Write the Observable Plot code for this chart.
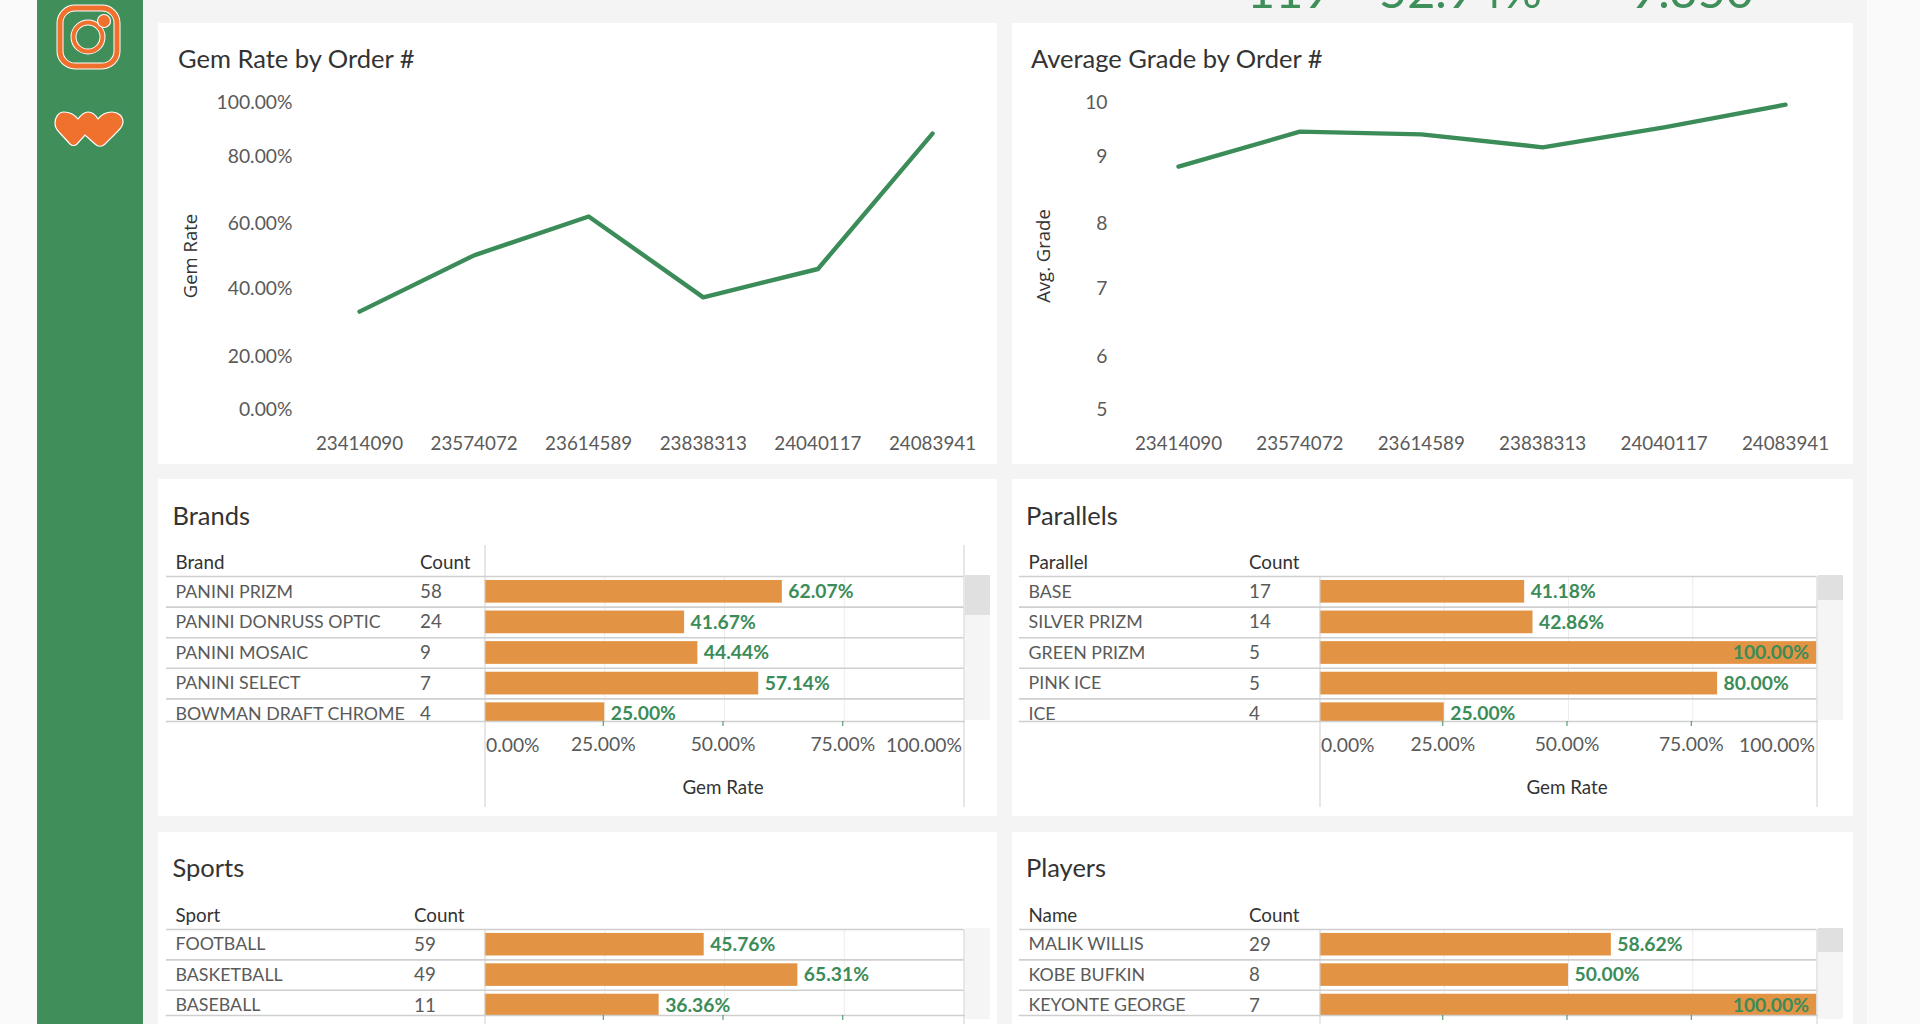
<!DOCTYPE html>
<html><head><meta charset="utf-8">
<script src="https://cdn.jsdelivr.net/npm/d3@7"></script>
<script src="https://cdn.jsdelivr.net/npm/@observablehq/plot@0.6"></script>
<style>
html,body{margin:0;padding:0;width:1920px;height:1024px;overflow:hidden;background:#fafafa;font-family:Lato,sans-serif}
#stage{position:relative;width:1920px;height:1024px;overflow:hidden}
.abs{position:absolute}
.card{position:absolute;background:#fff}
.card svg{position:absolute;left:0;top:0;background:transparent;overflow:visible}
.title{position:absolute;font-family:Lato,sans-serif;font-size:25.5px;color:#333;white-space:nowrap;line-height:30px}
.kpi{position:absolute;font-size:48.5px;line-height:48.5px;color:#3f8f5b;top:-35.5px;white-space:nowrap}
.track{position:absolute;background:#f5f5f5}.thumb{position:absolute;background:#e0e0e0}
</style></head>
<body><div id="stage">
<div class="abs" style="left:36.7px;top:0;width:106.8px;height:1024px;background:#408f5b"></div>
<div class="abs" style="left:143.5px;top:0;width:1723.5px;height:1024px;background:#f4f4f4"></div>
<svg class="abs" style="left:36px;top:0" width="108" height="160" viewBox="36 0 108 160">
  <rect x="60" y="8" width="57" height="58" rx="15" fill="none" stroke="#fff" stroke-width="7"/>
  <rect x="60" y="8" width="57" height="58" rx="15" fill="none" stroke="#f0702d" stroke-width="5"/>
  <circle cx="88" cy="37" r="14.5" fill="none" stroke="#fff" stroke-width="6"/>
  <circle cx="88" cy="37" r="14.5" fill="none" stroke="#f0702d" stroke-width="4"/>
  <circle cx="104" cy="21" r="6.5" fill="#f0702d" stroke="#fff" stroke-width="1.2"/>
  <path d="M78 119C74 114 69 112 64 112C58 112 55 118 55 123C55 127 57 130 59 132L70 144C72 146 75 146 77 144L85 135L95 144C98 147 102 147 105 144L118 131C121 128 123 125 123 122C123 116 118 112 112 112C106 112 101 115 98 119C95 114 92 112 88 112C84 112 81 115 78 119Z" fill="#f0702d" stroke="#fff" stroke-width="1.2"/>
</svg>
<div class="kpi" style="left:1247px">119</div>
<div class="kpi" style="left:1379px">52.94%</div>
<div class="kpi" style="left:1630px">9.350</div>
</div>
<script>
// ---- data ----
const orderNumbers = ["23414090","23574072","23614589","23838313","24040117","24083941"];
const gemRateByOrder = [33.2, 50.2, 62.1, 37.4, 46.0, 88.5];
const avgGradeByOrder = [8.85, 9.46, 9.41, 9.17, 9.54, 9.96];
const gemRateTicks = [0, 20, 40, 60, 80, 100];
const gradeTicks = [5, 6, 7, 8, 9, 10];
const brandNames = ["PANINI PRIZM","PANINI DONRUSS OPTIC","PANINI MOSAIC","PANINI SELECT","BOWMAN DRAFT CHROME"];
const brandCounts = [58, 24, 9, 7, 4];
const brandRates = [62.07, 41.67, 44.44, 57.14, 25.00];
const parallelNames = ["BASE","SILVER PRIZM","GREEN PRIZM","PINK ICE","ICE"];
const parallelCounts = [17, 14, 5, 5, 4];
const parallelRates = [41.18, 42.86, 100.00, 80.00, 25.00];
const sportNames = ["FOOTBALL","BASKETBALL","BASEBALL"];
const sportCounts = [59, 49, 11];
const sportRates = [45.76, 65.31, 36.36];
const playerNames = ["MALIK WILLIS","KOBE BUFKIN","KEYONTE GEORGE"];
const playerCounts = [29, 8, 7];
const playerRates = [58.62, 50.00, 100.00];
const rateAxisTicks = [25, 50, 75];

const GREEN = "#3b8c58", ORANGE = "#e39344", LINEC = "#cfcfcf", GREY = "#5a5a5a", DARK = "#333";
const stage = document.getElementById("stage");
function card(l, t, w, h, title, tx, ty) {
  const c = document.createElement("div");
  c.className = "card";
  c.style.cssText = `left:${l}px;top:${t}px;width:${w}px;height:${h}px`;
  const d = document.createElement("div");
  d.className = "title"; d.textContent = title;
  d.style.left = (tx - l) + "px"; d.style.top = (ty - t - 15) + "px";
  c.appendChild(d); stage.appendChild(c);
  return c;
}
const pct = d => d.toFixed(2) + "%";

function lineChart(box, o) {
  const data = orderNumbers.map((order, i) => ({order, value: o.values[i]}));
  const svg = Plot.plot({
    width: box.w, height: box.h,
    marginTop: 102 - box.t, marginBottom: box.t + box.h - 409,
    marginLeft: o.axisX - box.l, marginRight: 0,
    style: {fontFamily: "Lato, sans-serif", background: "transparent"},
    x: {type: "point", domain: orderNumbers, range: [o.x0 - box.l, o.x1 - box.l], padding: 0, round: false, axis: null},
    y: {type: "linear", domain: o.ticks, range: [409, 356, 288, 223, 156, 102].map(v => v - box.t), axis: null},
    marks: [
      Plot.axisY({ticks: o.ticks, tickSize: 0, tickPadding: 0, tickFormat: o.fmt, fontSize: 19.3, color: GREY, label: null}),
      Plot.axisX({ticks: orderNumbers, tickSize: 0, tickPadding: 27, fontSize: 18.8, color: GREY, label: null, anchor: "bottom"}),
      Plot.text([o.label], {frameAnchor: "left", textAnchor: "middle", dx: o.labelX - o.axisX, rotate: -90, fontSize: 18.5, fill: DARK,
        fontFamily: "'Open Sans', sans-serif"}),
      Plot.line(data, {x: "order", y: "value", stroke: GREEN, strokeWidth: 4.4, curve: "linear"})
    ]
  });
  box.el.appendChild(svg);
}

function tableChart(box, o) {
  const rows = o.names.map((name, i) => ({name, count: o.counts[i], rate: o.rates[i]}));
  const step = o.step, h = box.h;
  const clipB = o.bottom;
  const under = rows.filter(r => r.rate < 100), full = rows.filter(r => r.rate >= 100);
  const extendL = o.barL - o.lineL;
  const svg = Plot.plot({
    width: box.w, height: h,
    marginTop: o.top - box.t, marginBottom: box.t + h - clipB,
    marginLeft: o.barL - box.l, marginRight: box.l + box.w - o.barR,
    style: {fontFamily: "Lato, sans-serif", background: "transparent"},
    x: {domain: [0, 100], axis: null},
    y: {type: "band", domain: o.names, range: [o.top - box.t, o.top - box.t + step * o.names.length], paddingInner: 0.258, paddingOuter: 0.129, round: false, axis: null},
    marks: [
      Plot.ruleX(rateAxisTicks, {stroke: "#ececec", strokeWidth: 1}),
      Plot.barX(rows, {x: "rate", y: "name", fill: ORANGE, clip: "frame"}),
      Plot.ruleY(o.names, {y: d => d, dy: -step / 2, stroke: LINEC, strokeWidth: 1.6, insetLeft: -extendL}),
      Plot.frame({anchor: "bottom", stroke: LINEC, strokeWidth: 1.6, insetLeft: -extendL}),
      Plot.ruleX([0, 100], {stroke: "#cfcfcf", strokeWidth: 1, insetBottom: -(o.vBottom - clipB), insetTop: -(o.top - o.vTop)}),
      Plot.text(rows, {text: "name", y: "name", frameAnchor: "left", dx: o.nameX - o.barL, fontSize: 17.8, fill: GREY}),
      Plot.text(rows, {text: "count", y: "name", frameAnchor: "left", dx: o.countX - o.barL, fontSize: 18.8, fill: GREY}),
      Plot.text(under, {x: "rate", y: "name", text: d => pct(d.rate), textAnchor: "start", dx: 6, fontSize: 19.3, fontWeight: 700, fill: GREEN}),
      Plot.text(full, {x: "rate", y: "name", text: d => pct(d.rate), textAnchor: "end", dx: -8, fontSize: 19.3, fontWeight: 700, fill: GREEN}),
      Plot.text([o.head], {frameAnchor: "top-left", dx: o.nameX - o.barL, dy: -13.5, lineAnchor: "middle", fontSize: 18.8, fill: DARK}),
      Plot.text(["Count"], {frameAnchor: "top-left", dx: o.countX - o.barL, dy: -13.5, lineAnchor: "middle", fontSize: 18.8, fill: DARK}),
      Plot.axisX({ticks: rateAxisTicks, tickSize: 5, stroke: GREEN, tickPadding: 11, fontSize: 19.3, color: GREY, tickFormat: pct, label: null, dx: -1.5}),
      Plot.text([0], {x: d => d, frameAnchor: "bottom", dy: 24, dx: 1, lineAnchor: "middle", textAnchor: "start", text: d => pct(d), fontSize: 19.3, fill: GREY}),
      Plot.text([100], {x: d => d, frameAnchor: "bottom", dy: 24, dx: -2, lineAnchor: "middle", textAnchor: "end", text: d => pct(d), fontSize: 19.3, fill: GREY}),
      Plot.text(["Gem Rate"], {frameAnchor: "bottom", dy: 66, dx: -1.5, lineAnchor: "middle", fontSize: 18.8, fill: DARK})
    ]
  });
  box.el.appendChild(svg);
  if (o.trackT !== undefined) {
    const tr = document.createElement("div"); tr.className = "track";
    tr.style.cssText = `left:${o.barR + 1 - box.l}px;top:${o.trackT - box.t}px;width:${o.trackW}px;height:${o.trackB - o.trackT}px`;
    box.el.insertBefore(tr, svg);
    if (o.thumbB) {
      const th = document.createElement("div"); th.className = "thumb";
      th.style.cssText = `left:${o.barR + 1 - box.l}px;top:${o.trackT - box.t}px;width:${o.trackW}px;height:${o.thumbB - o.trackT}px`;
      box.el.insertBefore(th, svg);
    }
  }
}

const geo = (l, t, w, h, title, tx, ty) => ({l, t, w, h, el: card(l, t, w, h, title, tx, ty)});

lineChart(geo(158, 23, 839, 441, "Gem Rate by Order #", 178, 58), {
  values: gemRateByOrder, ticks: gemRateTicks, fmt: pct, x0: 359, x1: 932, axisX: 292, labelX: 191, label: "Gem Rate"});
lineChart(geo(1012, 23, 841, 441, "Average Grade by Order #", 1031, 58), {
  values: avgGradeByOrder, ticks: gradeTicks, fmt: d => d, x0: 1178, x1: 1785, axisX: 1107, labelX: 1044, label: "Avg. Grade"});

tableChart(geo(158, 479, 839, 337, "Brands", 172.5, 515), {
  names: brandNames, counts: brandCounts, rates: brandRates, head: "Brand",
  top: 576, bottom: 721, step: 30.6, barL: 484.5, barR: 963.5, lineL: 166, nameX: 175, countX: 419.5, vTop: 545, vBottom: 807,
  trackT: 575, trackB: 720, trackW: 25, thumbB: 615});
tableChart(geo(1012, 479, 841, 337, "Parallels", 1026, 515), {
  names: parallelNames, counts: parallelCounts, rates: parallelRates, head: "Parallel",
  top: 576, bottom: 721, step: 30.6, barL: 1319.5, barR: 1816.5, lineL: 1019, nameX: 1028, countX: 1248.5, vTop: 576, vBottom: 807,
  trackT: 575, trackB: 720, trackW: 25, thumbB: 600});
tableChart(geo(158, 832, 839, 337, "Sports", 172.5, 867), {
  names: sportNames, counts: sportCounts, rates: sportRates, head: "Sport",
  top: 929, bottom: 1015, step: 30.4, barL: 484.5, barR: 963.5, lineL: 166, nameX: 175, countX: 413.5, vTop: 929, vBottom: 1110,
  trackT: 928, trackB: 1019, trackW: 25});
tableChart(geo(1012, 832, 841, 337, "Players", 1026, 867), {
  names: playerNames, counts: playerCounts, rates: playerRates, head: "Name",
  top: 929, bottom: 1015, step: 30.4, barL: 1319.5, barR: 1816.5, lineL: 1019, nameX: 1028, countX: 1248.5, vTop: 929, vBottom: 1110,
  trackT: 928, trackB: 1019, trackW: 25, thumbB: 952});
</script>
</body></html>
